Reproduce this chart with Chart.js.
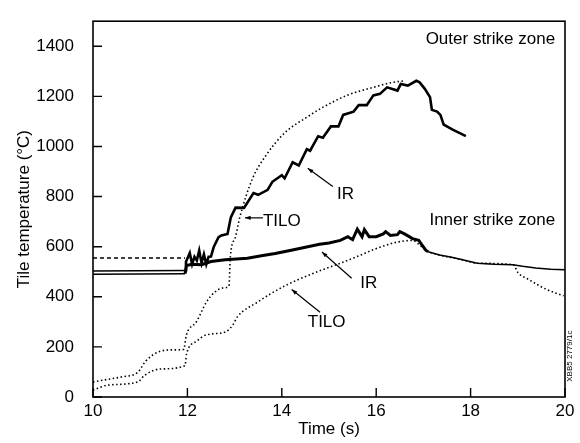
<!DOCTYPE html>
<html>
<head>
<meta charset="utf-8">
<script src="https://cdn.jsdelivr.net/npm/chart.js@4.4.0/dist/chart.umd.min.js"></script>
<style>
  html, body { margin: 0; padding: 0; background: #fff; }
  #wrap { width: 580px; height: 443px; }
</style>
</head>
<body>
<div id="wrap"><canvas id="tileChart" width="580" height="443"></canvas></div>
<script>
// values (time in s, temperature in oC)
var outerIrTime = [10, 11.95, 11.97, 12.05, 12.1, 12.15, 12.2, 12.25, 12.3, 12.35, 12.4, 12.45, 12.5, 12.56, 12.66, 12.72, 12.85, 12.92, 13.02, 13.2, 13.4, 13.5, 13.7, 13.8, 14.0, 14.06, 14.23, 14.36, 14.53, 14.6, 14.77, 14.87, 15.04, 15.2, 15.3, 15.52, 15.63, 15.8, 15.94, 16.08, 16.23, 16.45, 16.52, 16.67, 16.85, 16.92, 17.03, 17.14, 17.18, 17.29, 17.36, 17.43, 17.62, 17.9];
var outerIrTemp = [503, 505, 540, 575, 530, 560, 545, 585, 535, 570, 530, 560, 561, 600, 638, 645, 651, 717, 756, 755, 814, 807, 827, 859, 885, 873, 937, 924, 989, 983, 1041, 1035, 1080, 1080, 1126, 1139, 1165, 1165, 1204, 1210, 1236, 1223, 1249, 1243, 1262, 1256, 1230, 1197, 1146, 1139, 1126, 1087, 1067, 1041];

var innerIrTime = [10, 11.95, 11.98, 12.1, 12.3, 12.5, 12.8, 13.27, 13.6, 13.86, 14.2, 14.55, 14.8, 15.0, 15.24, 15.4, 15.5, 15.6, 15.7, 15.75, 15.85, 16.0, 16.15, 16.2, 16.3, 16.45, 16.5, 16.6, 16.77, 16.9, 17.05, 17.1, 17.34, 17.6, 17.85, 18.14, 18.5, 18.9, 19.1, 19.38, 19.7, 20];
var innerIrTemp = [490, 492, 525, 530, 528, 541, 548, 554, 565, 573, 586, 600, 610, 615, 625, 640, 628, 670, 640, 668, 640, 640, 651, 660, 645, 648, 660, 651, 632, 625, 586, 580, 567, 558, 547, 534, 530, 528, 522, 515, 510, 508];

var outerTiloTime = [10, 10.3, 10.6, 10.95, 11.12, 11.43, 11.7, 11.92, 11.98, 12.19, 12.4, 12.57, 12.75, 12.88, 12.91, 13.02, 13.11, 13.38, 13.66, 14.06, 14.55, 14.83, 15.38, 15.94, 16.35, 16.6];
var outerTiloTemp = [60, 70, 80, 99, 144, 183, 188, 190, 248, 300, 378, 417, 435, 443, 560, 640, 717, 872, 963, 1054, 1119, 1152, 1204, 1236, 1256, 1262];

var innerTiloTime = [10, 10.3, 10.95, 11.09, 11.44, 11.95, 11.98, 12.19, 12.4, 12.82, 12.97, 13.06, 13.48, 14.06, 15.24, 16.77, 16.9, 17.05, 17.34, 17.85, 18.14, 18.9, 19.01, 19.23, 19.6, 19.97];
var innerTiloTemp = [27, 47, 60, 86, 112, 125, 170, 222, 248, 261, 290, 320, 378, 443, 534, 625, 610, 586, 567, 547, 534, 528, 495, 469, 430, 404];

var preShotTime = [10, 11.95];
var preShotTemp = [555, 555];

var xTicks = [10, 12, 14, 16, 18, 20];
var yTicks = [0, 200, 400, 600, 800, 1000, 1200, 1400];

function zip(xs, ys) {
  var out = [];
  for (var i = 0; i < xs.length; i++) out.push({x: xs[i], y: ys[i]});
  return out;
}

Chart.defaults.font.family = "'Liberation Sans', Arial, sans-serif";
Chart.defaults.color = '#000';

// frame, inward ticks and the hand-lettered labels
var framePlugin = {
  id: 'frame',
  afterDatasetsDraw: function(chart) {
    var c = chart.ctx, a = chart.chartArea;
    var xs = chart.scales.x, ys = chart.scales.y;
    c.save();
    c.strokeStyle = '#000';
    c.lineWidth = 1.6;
    c.strokeRect(a.left, a.top, a.right - a.left, a.bottom - a.top);
    c.lineWidth = 1.4;
    c.beginPath();
    xTicks.forEach(function(v) {
      var px = xs.getPixelForValue(v);
      c.moveTo(px, a.bottom); c.lineTo(px, a.bottom - 9);
    });
    yTicks.forEach(function(v) {
      var py = ys.getPixelForValue(v);
      c.moveTo(a.left, py); c.lineTo(a.left + 9, py);
    });
    c.stroke();

    function P(x, y) { return [xs.getPixelForValue(x), ys.getPixelForValue(y)]; }
    function txt(s, x, y, align) {
      var p = P(x, y);
      c.textAlign = align || 'left';
      c.fillText(s, p[0], p[1]);
    }
    function leader(x0, y0, x1, y1) {
      var p = P(x0, y0), q = P(x1, y1);
      c.beginPath(); c.moveTo(p[0], p[1]); c.lineTo(q[0], q[1]); c.stroke();
      // small arrow head at the curve end
      var ang = Math.atan2(p[1] - q[1], p[0] - q[0]);
      c.beginPath();
      c.moveTo(p[0], p[1]);
      c.lineTo(p[0] - 6 * Math.cos(ang - 0.35), p[1] - 6 * Math.sin(ang - 0.35));
      c.lineTo(p[0] - 6 * Math.cos(ang + 0.35), p[1] - 6 * Math.sin(ang + 0.35));
      c.closePath(); c.fill();
    }

    c.fillStyle = '#000';
    c.font = "17px 'Liberation Sans', Arial, sans-serif";
    c.textBaseline = 'middle';
    txt('Outer strike zone', 19.79, 1426, 'right');
    txt('Inner strike zone', 19.79, 707, 'right');
    txt('IR', 15.17, 808);
    txt('TILO', 13.6, 700);
    txt('IR', 15.66, 455);
    txt('TILO', 14.55, 299);

    c.lineWidth = 1.2;
    leader(14.55, 913, 15.08, 840);
    leader(13.22, 715, 13.6, 715);
    leader(14.85, 579, 15.48, 474);
    leader(14.21, 429, 14.81, 338);

    // figure id, written sideways on the right edge
    var id = P(20.1, 163);
    c.save();
    c.translate(id[0], id[1]);
    c.rotate(-Math.PI / 2);
    c.font = "8px 'Liberation Sans', Arial, sans-serif";
    c.textAlign = 'center';
    c.fillText('XBB5 2779/1c', 0, 0);
    c.restore();
    c.restore();
  }
};

var dotted = [1.5, 2.5];

// thin lines before the shot at 12 s, heavy once the IR signal gets noisy
function irWidth(thick, after) {
  return function(ctx) {
    var x = ctx.p0.parsed.x;
    if (x < 11.9) return 1.3;
    if (after && x >= 17.1) return 1.6;
    return thick;
  };
}

new Chart(document.getElementById('tileChart'), {
  type: 'line',
  data: {
    datasets: [
      { label: 'Outer IR', data: zip(outerIrTime, outerIrTemp), borderColor: '#000', borderWidth: 2.6,
        segment: { borderWidth: irWidth(2.6, false) } },
      { label: 'Inner IR', data: zip(innerIrTime, innerIrTemp), borderColor: '#000', borderWidth: 3,
        segment: { borderWidth: irWidth(3, true) } },
      { label: 'Outer TILO', data: zip(outerTiloTime, outerTiloTemp), borderColor: '#000', borderWidth: 1.6,
        borderDash: dotted, cubicInterpolationMode: 'monotone' },
      { label: 'Inner TILO', data: zip(innerTiloTime, innerTiloTemp), borderColor: '#000', borderWidth: 1.6,
        borderDash: dotted, cubicInterpolationMode: 'monotone' },
      { label: 'Pre-shot', data: zip(preShotTime, preShotTemp), borderColor: '#000', borderWidth: 1.5,
        borderDash: [4, 3] }
    ]
  },
  options: {
    responsive: false,
    animation: false,
    devicePixelRatio: 1,
    layout: { padding: { top: 11, right: 15, left: 0, bottom: 0 } },
    elements: { point: { radius: 0 }, line: { tension: 0, fill: false } },
    plugins: { legend: { display: false }, tooltip: { enabled: false } },
    scales: {
      x: {
        type: 'linear', min: 10, max: 20,
        grid: { display: false }, border: { display: false },
        ticks: { stepSize: 2, padding: -4, font: { size: 17 }, color: '#000',
                 callback: function(v) { return String(v); } },
        title: { display: true, text: 'Time (s)', font: { size: 17 }, padding: { top: 0, bottom: 3 }, color: '#000' },
        afterFit: function(s) { s.height = 46; }
      },
      y: {
        min: 0, max: 1500,
        grid: { display: false }, border: { display: false },
        ticks: { stepSize: 200, includeBounds: false, padding: 11, font: { size: 17 }, color: '#000',
                 callback: function(v) { return String(v); } },
        title: { display: true, text: 'Tile temperature (\u00B0C)', font: { size: 17 }, padding: { top: 14, bottom: 0 }, color: '#000' },
        afterFit: function(s) { s.width = 93; }
      }
    }
  },
  plugins: [framePlugin]
});
</script>
</body>
</html>
